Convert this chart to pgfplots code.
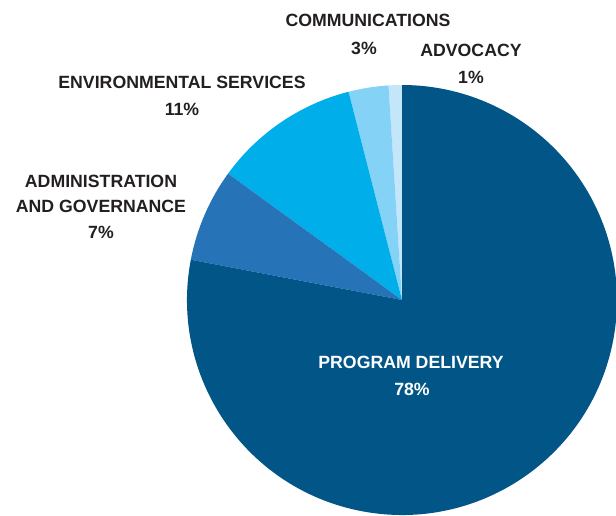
\documentclass[border=0pt]{standalone}
\usepackage{fontspec}
\setmainfont{Liberation Sans}
\usepackage{pgfplots}
\usepackage{pgfplotstable}
\pgfplotsset{compat=1.18}
\definecolor{cProg}{HTML}{015687}
\definecolor{cAdmin}{HTML}{2673B8}
\definecolor{cEnv}{HTML}{00AEEA}
\definecolor{cComm}{HTML}{84D2F6}
\definecolor{cAdv}{HTML}{C3E6F8}
\definecolor{txt}{HTML}{231F20}
% slices counter-clockwise from 12 o'clock
\pgfplotstableread{
name value
Advocacy 1
Communications 3
Environmental 11
Administration 7
Program 78
}\piedata
\newcommand{\lbl}[4][txt]{\node[anchor=base,inner sep=0pt,text=#1,font=\bfseries\fontsize{17.7bp}{21bp}\selectfont] at (axis cs:#2,{516-#3-6.3}) {#4};}
\begin{document}
\begin{tikzpicture}
\path[use as bounding box] (0,0) rectangle (616bp,516bp);
\gdef\cum{90}
\foreach \i in {0,...,4}{%
  \pgfplotstablegetelem{\i}{value}\of\piedata
  \pgfmathsetmacro{\st}{\cum}%
  \pgfmathsetmacro{\en}{\cum+3.6*\pgfplotsretval}%
  \expandafter\xdef\csname sA\i\endcsname{\st}%
  \expandafter\xdef\csname eA\i\endcsname{\en}%
  \xdef\cum{\en}%
}
\begin{axis}[
  at={(0,0)}, anchor=south west, scale only axis,
  x=1bp, y=1bp, xmin=0, xmax=616, ymin=0, ymax=516,
  hide axis, clip=true,
]
\fill[cAdv] (axis cs:402,216) -- ++(\csname sA0\endcsname:215bp) arc[start angle=\csname sA0\endcsname, end angle=\csname eA0\endcsname, radius=215bp] -- cycle;
\fill[cComm] (axis cs:402,216) -- ++(\csname sA1\endcsname:215bp) arc[start angle=\csname sA1\endcsname, end angle=\csname eA1\endcsname, radius=215bp] -- cycle;
\fill[cEnv] (axis cs:402,216) -- ++(\csname sA2\endcsname:215bp) arc[start angle=\csname sA2\endcsname, end angle=\csname eA2\endcsname, radius=215bp] -- cycle;
\fill[cAdmin] (axis cs:402,216) -- ++(\csname sA3\endcsname:215bp) arc[start angle=\csname sA3\endcsname, end angle=\csname eA3\endcsname, radius=215bp] -- cycle;
\fill[cProg] (axis cs:402,216) -- ++(\csname sA4\endcsname:215bp) arc[start angle=\csname sA4\endcsname, end angle=\csname eA4\endcsname, radius=215bp] -- cycle;
\lbl{368}{20}{COMMUNICATIONS}
\lbl{364}{48}{3\%}
\lbl{471}{50}{ADVOCACY}
\lbl{471}{77}{1\%}
\lbl{182}{82}{ENVIRONMENTAL SERVICES}
\lbl{182}{109}{11\%}
\lbl{101}{181.5}{ADMINISTRATION}
\lbl{101}{206.5}{AND GOVERNANCE}
\lbl{101}{232}{7\%}
\lbl[white]{411}{362.5}{PROGRAM DELIVERY}
\lbl[white]{412}{389}{78\%}
\end{axis}
\end{tikzpicture}
\end{document}
